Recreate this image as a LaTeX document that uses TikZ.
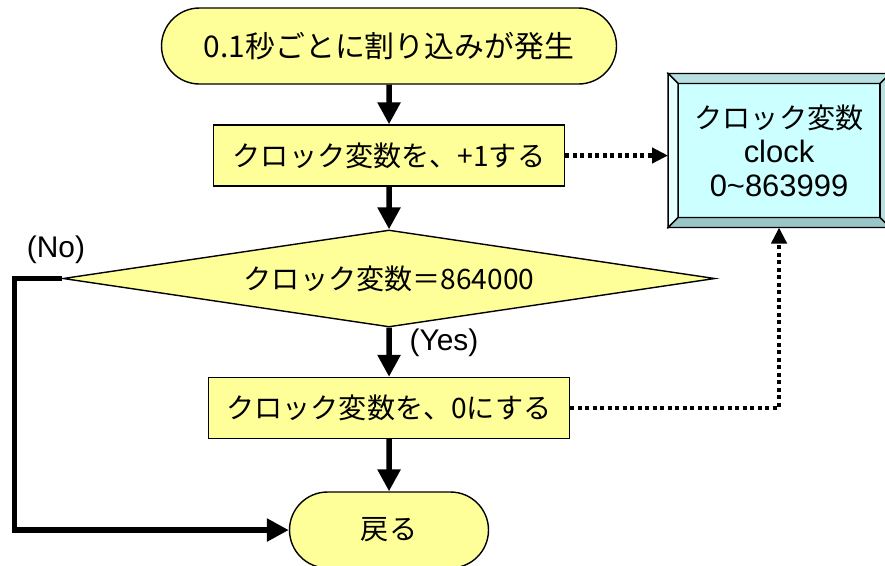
\documentclass[tikz,border=0pt]{standalone}
\usepackage{fontspec}
\setmainfont{Liberation Sans}
\newfontfamily\jpfont{Noto Sans CJK JP}
\usetikzlibrary{shapes.geometric,arrows.meta}
\definecolor{stepyellow}{HTML}{FFFF99}
\definecolor{clockface}{HTML}{CCFFFF}
\definecolor{bevellight}{HTML}{E6FFFF}
\definecolor{bevelmid}{HTML}{B8E0E0}
\definecolor{beveldark}{HTML}{99C6C6}
\begin{document}
\begin{tikzpicture}[scale=0.1, every node/.style={font=\jpfont\fontsize{8}{9.7}\selectfont}]
\tikzstyle{term}=[draw, fill=stepyellow, rounded corners=3.8mm, minimum height=7.6mm, inner sep=0pt]
\tikzstyle{proc}=[draw, fill=stepyellow, minimum height=6.1mm, inner sep=0pt]
\tikzstyle{cond}=[draw, fill=stepyellow, diamond, aspect=6.7, minimum width=65.2mm, minimum height=9.7mm, inner sep=0pt]
\tikzstyle{flow}=[line width=0.55mm, -{Triangle[length=2.2mm,width=2.2mm]}]
\tikzstyle{link}=[line width=0.45mm, dash pattern=on 0.4mm off 0.35mm, -{Triangle[length=1.6mm,width=1.5mm]}]
\tikzstyle{answer}=[font=\normalfont\fontsize{8.5}{10}\selectfont]
\useasboundingbox (0,0) rectangle (88.5,-56.5);
% flow
\node [term, minimum width=45.5mm, font=\jpfont\fontsize{8.5}{9.7}\selectfont] (start) at (38.9,-4.6) {0.1秒ごとに割り込みが発生};
\node [proc, minimum width=35.1mm] (inc) at (38.9,-15.55) {クロック変数を、+1する};
\node [cond] (check) at (38.9,-27.85) {クロック変数＝864000};
\node [proc, minimum width=36.1mm] (reset) at (38.9,-40.8) {クロック変数を、0にする};
\node [term, minimum width=19.9mm] (ret) at (38.9,-53.0) {戻る};
% clock variable
\node [draw, fill=clockface, minimum width=20.2mm, minimum height=13.4mm, outer sep=1mm, align=center,
  font=\normalfont\fontsize{8.8}{9.7}\selectfont] (clock) at (77.9,-15.05)
  {{\jpfont\fontsize{8}{9.7}\selectfont クロック変数}\\clock\\0\textasciitilde 863999};
\filldraw [fill=bevelmid] (clock.north west) -- ++(1,-1) -- ++(20.2,0) -- (clock.north east) -- cycle;
\filldraw [fill=bevellight] (clock.north west) -- ++(1,-1) -- ++(0,-13.4) -- (clock.south west) -- cycle;
\filldraw [fill=beveldark] (clock.south west) -- ++(1,1) -- ++(20.2,0) -- (clock.south east) -- cycle;
\filldraw [fill=bevelmid] (clock.north east) -- ++(-1,-1) -- ++(0,-13.4) -- (clock.south east) -- cycle;
% labels
\node [answer] (nolabel) at (5.6,-25.0) {(No)};
\node [answer] (yeslabel) at (44.4,-34.3) {(Yes)};
% arrows
\draw [flow] (start) -- (inc);
\draw [flow] (inc) -- (check);
\draw [flow] (check) -- (reset);
\draw [flow] (reset) -- (ret);
\draw [flow] (check.west) -- ++(-4.8,0) |- (ret.west);
\draw [link] (inc.east) -- (inc.east -| clock.west);
\draw [link] (reset.east) -| (clock.south);
\end{tikzpicture}
\end{document}
